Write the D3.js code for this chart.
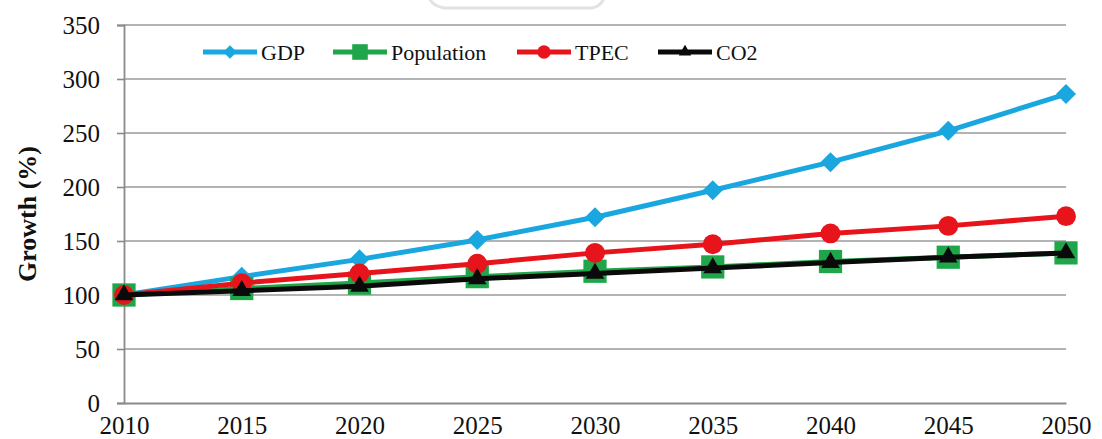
<!DOCTYPE html>
<html>
<head>
<meta charset="utf-8">
<script src="https://cdn.jsdelivr.net/npm/d3@7"></script>
<style>
  html, body { margin: 0; padding: 0; background: #fff; }
  svg { display: block; }
  text { font-family: "Liberation Serif", "Times New Roman", serif; fill: #111; }
</style>
</head>
<body>
<svg id="chart" width="1102" height="439"></svg>
<script>
// Years on the horizontal axis
const years = [2010, 2015, 2020, 2025, 2030, 2035, 2040, 2045, 2050];
// Growth index (2010 = 100)
const gdp        = [100, 117, 133, 151, 172, 197, 223, 252, 286];
const population = [100, 106, 111, 117, 122, 126, 131, 135, 139];
const tpec       = [100, 111, 120, 129, 139, 147, 157, 164, 173];
const co2        = [100, 104, 108, 115, 120, 125, 130, 135, 139];
const yTicks = [0, 50, 100, 150, 200, 250, 300, 350];

const seriesNames  = ["GDP", "Population", "TPEC", "CO2"];
const seriesColors = ["#1aa7e0", "#1fa64a", "#e8141b", "#0a0a0a"];
const seriesShapes = ["diamond", "square", "circle", "triangle"];

const series = [gdp, population, tpec, co2].map((vals, i) => ({
  name: seriesNames[i], color: seriesColors[i], shape: seriesShapes[i],
  values: vals.map((v, j) => ({ year: years[j], value: v }))
}));

const svg = d3.select("#chart");
const margin = { left: 124, right: 36, top: 25, bottom: 36 };
const W = 1102, H = 439;

const x = d3.scaleLinear().domain([2010, 2050]).range([margin.left, W - margin.right]);
const y = d3.scaleLinear().domain([0, 350]).range([H - margin.bottom, margin.top]);

// Faint logo outline at the top edge
svg.append("path")
  .attr("d", "M428,-6 Q430,6 445,8 L592,8 Q603,6 605,-6")
  .attr("fill", "none").attr("stroke", "#e2e2e2").attr("stroke-width", 3);

// Horizontal gridlines
svg.append("g").selectAll("line").data(yTicks.filter(d => d > 0)).join("line")
  .attr("x1", x(2010)).attr("x2", x(2050))
  .attr("y1", d => y(d)).attr("y2", d => y(d))
  .attr("stroke", "#9a9a9a").attr("stroke-width", 1.6);

// Y axis
const yAxis = svg.append("g").attr("transform", `translate(${x(2010)},0)`)
  .call(d3.axisLeft(y).tickValues(yTicks).tickSize(7).tickPadding(17));
yAxis.select(".domain").attr("stroke", "#8a8a8a").attr("stroke-width", 1.8);
yAxis.selectAll(".tick line").attr("stroke", "#8a8a8a").attr("stroke-width", 1.6);
yAxis.selectAll(".tick text").style("font-family", "Liberation Serif, serif")
  .style("font-size", "25px").attr("fill", "#111");

// X axis
const xAxis = svg.append("g").attr("transform", `translate(0,${y(0)})`)
  .call(d3.axisBottom(x).tickValues(years).tickFormat(d3.format("d")).tickSize(0).tickPadding(13));
xAxis.select(".domain").attr("stroke", "#8a8a8a").attr("stroke-width", 1.8);
xAxis.selectAll(".tick text").style("font-family", "Liberation Serif, serif")
  .style("font-size", "25px").attr("fill", "#111");

// Axis title
svg.append("text")
  .attr("transform", `translate(36,${(y(0) + y(350)) / 2}) rotate(-90)`)
  .attr("text-anchor", "middle")
  .style("font-size", "26px").style("font-weight", "bold")
  .text("Growth (%)");

// Marker shapes: a square diamond (equal diagonals) plus d3's built-in symbols
const diamond = {
  draw(ctx, size) {
    const r = Math.sqrt(size / 2);
    ctx.moveTo(0, -r); ctx.lineTo(r, 0); ctx.lineTo(0, r); ctx.lineTo(-r, 0); ctx.closePath();
  }
};
function markerPath(shape, scale) {
  if (shape === "diamond") return d3.symbol(diamond, 200 * scale)();
  if (shape === "square") return d3.symbol(d3.symbolSquare, 540 * scale)();
  if (shape === "circle") return d3.symbol(d3.symbolCircle, 310 * scale)();
  return d3.symbol(d3.symbolTriangle, 150 * scale)();
}

const line = d3.line().x(d => x(d.year)).y(d => y(d.value));

// Lines and markers
const groups = svg.append("g").selectAll("g").data(series).join("g");
groups.append("path")
  .attr("d", d => line(d.values))
  .attr("fill", "none")
  .attr("stroke", d => d.color)
  .attr("stroke-width", 5)
  .attr("stroke-linejoin", "round");
groups.each(function(s) {
  d3.select(this).selectAll("path.mk").data(s.values).join("path")
    .attr("class", "mk")
    .attr("transform", d => `translate(${x(d.year)},${y(d.value)})`)
    .attr("d", markerPath(s.shape, 1))
    .attr("fill", s.color);
});

// Legend
const legendX = [203, 333, 517, 658];
const legendY = 52;
const legend = svg.append("g").selectAll("g").data(series).join("g")
  .attr("transform", (d, i) => `translate(${legendX[i]},${legendY})`);
legend.append("line")
  .attr("x1", 0).attr("x2", 54).attr("y1", 0).attr("y2", 0)
  .attr("stroke", d => d.color).attr("stroke-width", 5);
legend.append("path")
  .attr("transform", "translate(27,0)")
  .attr("d", d => markerPath(d.shape, 0.45))
  .attr("fill", d => d.color);
legend.append("text")
  .attr("x", 58).attr("y", 8)
  .style("font-size", "22px")
  .text(d => d.name);
</script>
</body>
</html>
